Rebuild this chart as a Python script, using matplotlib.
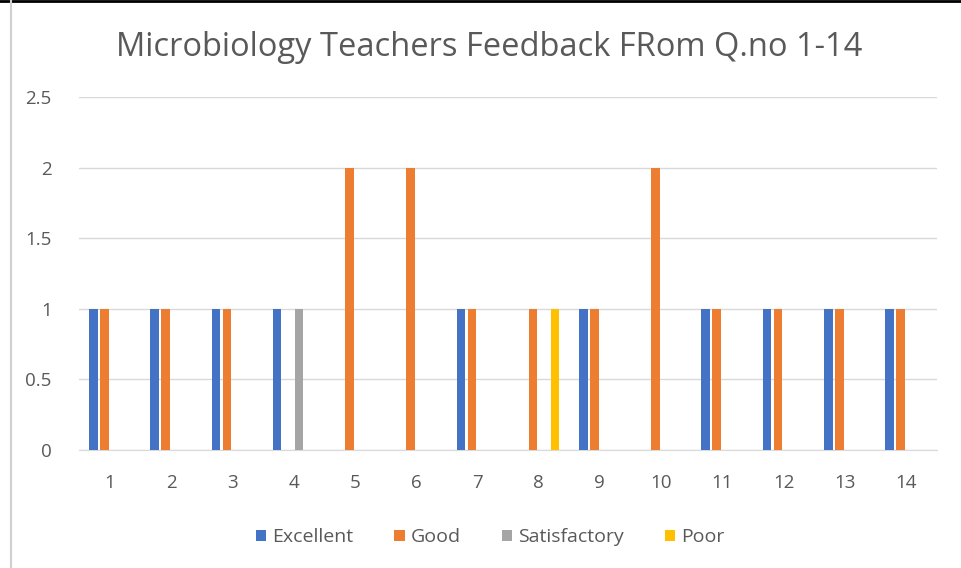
import numpy as np
import matplotlib.pyplot as plt
from matplotlib.lines import Line2D

plt.rcParams['font.family'] = ['Open Sans', 'DejaVu Sans']

# Respostas por questão
questoes = [str(i) for i in range(1, 15)]
excellent = [1, 1, 1, 1, 0, 0, 1, 0, 1, 0, 1, 1, 1, 1]
good = [1, 1, 1, 0, 2, 2, 1, 1, 1, 2, 1, 1, 1, 1]
satisfactory = [0, 0, 0, 1, 0, 0, 0, 0, 0, 0, 0, 0, 0, 0]
poor = [0, 0, 0, 0, 0, 0, 0, 1, 0, 0, 0, 0, 0, 0]

series = [("Excellent", excellent, "#4472C4"),
          ("Good", good, "#ED7D31"),
          ("Satisfactory", satisfactory, "#A5A5A5"),
          ("Poor", poor, "#FFC000")]

fig = plt.figure(figsize=(9.61, 5.68), dpi=100)
ax = fig.add_axes([0.0826, 0.2077, 0.892, 0.621])

x = np.arange(len(questoes))
passo = 0.18
largura = 0.14
for i, (nome, vals, cor) in enumerate(series):
    ax.bar(x + (i - 1.5) * passo, vals, width=largura, color=cor, label=nome, zorder=3)

ax.set_xlim(-0.5, len(questoes) - 0.5)
ax.set_ylim(0, 2.5)
ax.set_yticks([0, 0.5, 1, 1.5, 2, 2.5])
ax.set_yticklabels(["0", "0.5", "1", "1.5", "2", "2.5"])
ax.set_xticks(x)
ax.set_xticklabels(questoes)
ax.yaxis.grid(True, color="#D9D9D9", linewidth=1, zorder=0)
for s in ["top", "right", "left"]:
    ax.spines[s].set_visible(False)
ax.spines["bottom"].set_color("#D9D9D9")
ax.tick_params(axis="both", length=0, colors="#595959", labelsize=13.5)
ax.tick_params(axis="y", pad=20)
ax.tick_params(axis="x", pad=17)

fig.text(0.509, 0.917, "Microbiology Teachers Feedback FRom Q.no 1-14", fontsize=23.5,
         color="#595959", ha="center", va="center")

fig.legend(loc="center", bbox_to_anchor=(0.51, 0.054), ncol=4, frameon=False,
           fontsize=14, labelcolor="#595959", handlelength=0.55, handleheight=0.55,
           handletextpad=0.3, columnspacing=2.1)

# bordas da imagem
fig.add_artist(Line2D([0, 1], [0.999, 0.999], color="black", linewidth=2))
fig.add_artist(Line2D([0.011, 0.011], [0, 1], color="#D0D0D0", linewidth=1.5))

fig.savefig("out.png", dpi=100)
